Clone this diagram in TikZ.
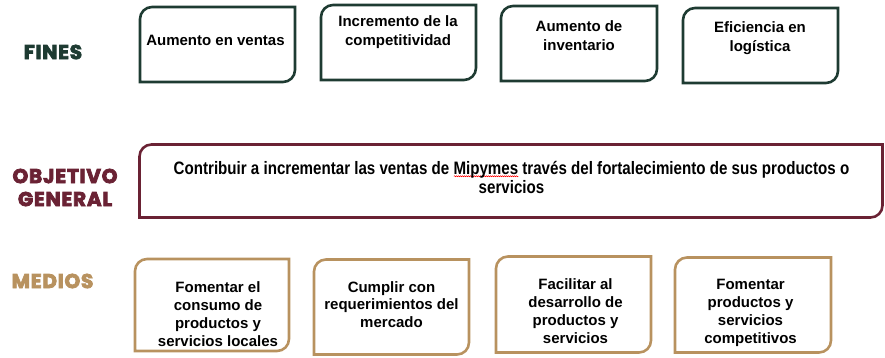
\documentclass[tikz,border=0pt]{standalone}
\usepackage{fontspec}
\usetikzlibrary{decorations.pathmorphing}
\setmainfont{Liberation Sans}
\newfontfamily\labfont[LetterSpace=4]{Poppins}
\newfontfamily\narrowfont[FakeStretch=0.84]{Liberation Sans}
\definecolor{finesgreen}{HTML}{1E3B32}
\definecolor{objmaroon}{HTML}{6A2234}
\definecolor{mediosgold}{HTML}{B8925F}
\newcommand\heavy[1]{\special{pdf:literal direct 2 Tr 0.8 w}#1\special{pdf:literal direct 0 Tr}}
\newlength\wavelen
\newcommand\redwave[1]{\settowidth\wavelen{#1}\rlap{\raisebox{-3pt}{\tikz\draw[red,line width=0.5pt,decorate,decoration={snake,amplitude=0.5pt,segment length=2pt}] (0pt,0pt) -- (\wavelen,0pt);}}#1}
\newcommand\diagframe[2]{\draw[line width=2.6pt,draw=#2] (#1.south west) -- ([yshift=-12pt]#1.north west) arc[start angle=180,end angle=90,radius=12pt] -- (#1.north east) -- ([yshift=12pt]#1.south east) arc[start angle=0,end angle=-90,radius=12pt] -- cycle;}
\begin{document}
\begin{tikzpicture}[x=1pt,y=-1pt,
  shapebox/.style={draw=none,rectangle,inner sep=0pt,outer sep=0pt},
  boxtext/.style={font=\bfseries\fontsize{15}{19}\selectfont,align=center,text=black,inner sep=0pt},
  medtext/.style={font=\bfseries\fontsize{15}{17.8}\selectfont,align=center,text=black,inner sep=0pt},
  lab/.style={font=\labfont\bfseries\fontsize{20}{23}\selectfont,align=center,inner sep=0pt}]
\useasboundingbox (0,0) rectangle (885,358);
% labels
\node[lab,text=finesgreen] (lfines) at (53,52) {\heavy{FINES}};
\node[lab,text=objmaroon] (lobj) at (65,187.5) {\heavy{OBJETIVO}\\\heavy{GENERAL}};
\node[lab,text=mediosgold] (lmed) at (52.5,281) {\heavy{MEDIOS}};
% fines boxes
\node[shapebox,minimum width=155pt,minimum height=75pt] (f1) at (217.5,44.5) {};
\node[shapebox,minimum width=155pt,minimum height=75pt] (f2) at (398.5,42.5) {};
\node[shapebox,minimum width=156pt,minimum height=75pt] (f3) at (579,43.5) {};
\node[shapebox,minimum width=155pt,minimum height=75pt] (f4) at (760.5,45.5) {};
\foreach \n in {f1,f2,f3,f4}{\diagframe{\n}{finesgreen}}
\node[boxtext] (tf1) at (215.5,40) {Aumento en ventas};
\node[boxtext] (tf2) at (398,32.5) {Incremento de la\\competitividad};
\node[boxtext] (tf3) at (579,36) {Aumento de\\inventario};
\node[boxtext] (tf4) at (760,38) {Eficiencia en\\logística};
% objective
\node[shapebox,minimum width=743pt,minimum height=73pt] (obj) at (511,181) {};
\diagframe{obj}{objmaroon}
\node[font=\narrowfont\bfseries\fontsize{18}{19}\selectfont,align=center,inner sep=0pt] (tobj) at (511.5,177) {Contribuir a incrementar las ventas de \redwave{Mipymes} través del fortalecimiento de sus productos o\\servicios};
% medios boxes
\node[shapebox,minimum width=154pt,minimum height=92pt] (m1) at (212,305) {};
\node[shapebox,minimum width=155pt,minimum height=95pt] (m2) at (391.5,307) {};
\node[shapebox,minimum width=155pt,minimum height=96pt] (m3) at (573.5,304.5) {};
\node[shapebox,minimum width=156pt,minimum height=95pt] (m4) at (753,305) {};
\foreach \n in {m1,m2,m3,m4}{\diagframe{\n}{mediosgold}}
\node[medtext] (tm1) at (218,314) {Fomentar el\\consumo de\\productos y\\servicios locales};
\node[medtext] (tm2) at (391.5,304.5) {Cumplir con\\requerimientos del\\mercado};
\node[medtext] (tm3) at (575.5,311) {Facilitar al\\desarrollo de\\productos y\\servicios};
\node[medtext] (tm4) at (750.5,313) {Fomentar\\productos y\\servicios\\competitivos};
\end{tikzpicture}
\end{document}
